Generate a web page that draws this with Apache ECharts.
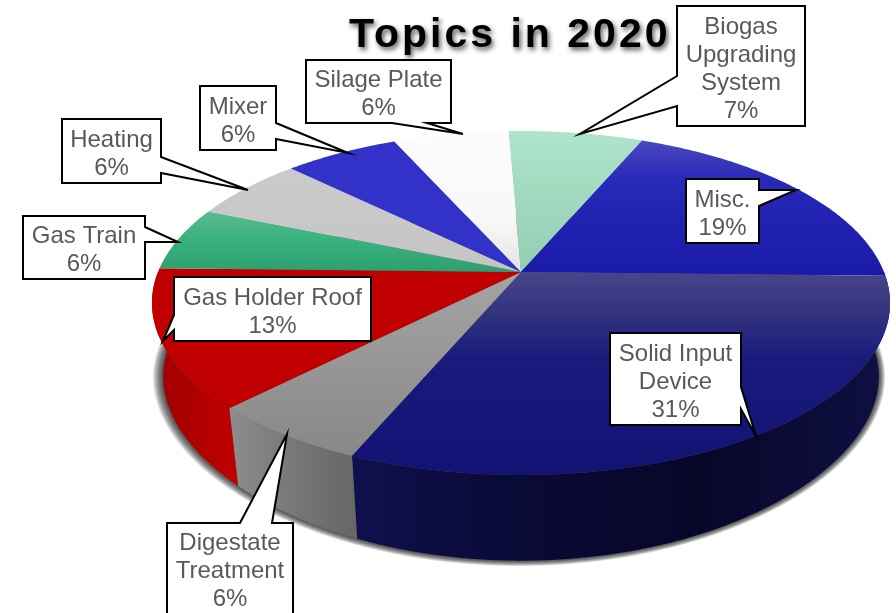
<!DOCTYPE html>
<html>
<head>
<meta charset="utf-8">
<style>html,body{margin:0;padding:0;background:#fff}#chart{width:896px;height:613px}</style>
<script src="https://cdn.jsdelivr.net/npm/echarts@6/dist/echarts.min.js"></script>
</head>
<body>
<div id="chart"></div>
<script>
// Share of topics, clockwise from just before twelve o'clock.
const titleText = 'Topics in 2020';
const sliceNames = [
  ['Biogas', 'Upgrading', 'System'],
  ['Misc.'],
  ['Solid Input', 'Device'],
  ['Digestate', 'Treatment'],
  ['Gas Holder Roof'],
  ['Gas Train'],
  ['Heating'],
  ['Mixer'],
  ['Silage Plate']
];
const sliceShares = [7, 19, 31, 6, 13, 6, 6, 6, 6];

// Perspective views of the disc: its top face and its base.
const topFace = { cx: 521, cy: 272, rx: 363, ry: 166.4, perspX: 0.18, perspY: 0.18 };
const baseFace = { cx: 521, cy: 346, rx: 352, ry: 161, perspX: 0.18, perspY: 0.25 };
// Growth in pixels of the stacked translucent discs that make the soft cast shadow.
const shadowGrowth = [8, 7, 6, 5, 4, 3, 2, 1];
// Rotation of the whole pie, in percent of the circle.
const startShare = -0.65;

// Cumulative start angle (radians, clockwise from the top) of every slice.
const total = sliceShares.reduce((a, b) => a + b, 0);
const toAngle = share => (share + startShare) / total * Math.PI * 2;
const startAngles = [];
sliceShares.reduce((sum, v, i) => { startAngles[i] = toAngle(sum); return sum + v; }, 0);
const endAngle = i => startAngles[i] + sliceShares[i] / total * Math.PI * 2;

function project(theta, face) {
  const u = Math.sin(theta), v = -Math.cos(theta);
  return [face.cx + face.rx * u / (1 - face.perspX * v), face.cy + face.ry * v / (1 - face.perspY * v)];
}
function arc(a0, a1, face) {
  const n = Math.max(2, Math.ceil(Math.abs(a1 - a0) / 0.01));
  const pts = [];
  for (let k = 0; k <= n; k++) pts.push(project(a0 + (a1 - a0) * k / n, face));
  return pts;
}
const vGrad = (y0, y1, stops) => ({ type: 'linear', x: 0, y: y0, x2: 0, y2: y1, global: true,
  colorStops: stops.map(s => ({ offset: (s[0] - y0) / (y1 - y0), color: s[1] })) });
const hGrad = (x0, x1, stops) => ({ type: 'linear', x: x0, y: 0, x2: x1, y2: 0, global: true,
  colorStops: stops.map(s => ({ offset: (s[0] - x0) / (x1 - x0), color: s[1] })) });

// Top face colours, one per slice.
const topFills = [
  vGrad(131, 272, [[131, '#aee4cb'], [272, '#93ceb3']]),
  vGrad(131, 272, [[131, '#5250bf'], [180, '#2828b9'], [272, '#1b1ba9']]),
  vGrad(272, 475, [[272, '#48468a'], [310, '#34347f'], [360, '#191a7c'], [475, '#121274']]),
  vGrad(272, 475, [[272, '#a3a3a3'], [340, '#9a9a9a'], [475, '#858585']]),
  '#c00000',
  vGrad(213, 272, [[213, '#58ba90'], [240, '#38b27e'], [272, '#2d9f6f']]),
  vGrad(165, 272, [[165, '#cbcbcb'], [272, '#c4c4c4']]),
  '#3232c8',
  vGrad(131, 272, [[131, '#fcfcfc'], [220, '#f8f8f8'], [272, '#e4e4e4']])
];
// Rim colours for the slices that face the viewer.
const solidWall = hGrad(355, 889, [[355, '#10104e'], [500, '#0a0a38'], [700, '#070729'], [889, '#0f0f42']]);
const wallFills = {
  1: solidWall,
  2: solidWall,
  3: hGrad(228, 358, [[228, '#8e8e8e'], [290, '#787878'], [358, '#666666']]),
  4: hGrad(155, 236, [[155, '#9f0000'], [236, '#c00000']])
};

// Callout placement: box [x, y, w, h], tail [root, tip, root], text shift.
const callouts = [
  { box: [677, 6, 128, 120], tail: [[677, 76], [580, 134], [677, 106]], dy: 3 },
  { box: [686, 179, 73, 64], tail: [[759, 190], [796, 190], [759, 206]], dy: 3 },
  { box: [610, 333, 131, 92], tail: [[741, 387], [756, 436], [741, 409]], dy: 3 },
  { box: [167, 523, 126, 110], tail: [[240, 523], [287, 434], [272, 523]], dy: -7 },
  { box: [174, 277, 197, 64], tail: [[174, 315], [163, 341], [174, 330]], dy: 3 },
  { box: [23, 216, 122, 63], tail: [[145, 227], [178, 242], [145, 242]], dy: 3 },
  { box: [62, 119, 99, 64], tail: [[161, 157], [248, 190], [161, 173]], dy: 3 },
  { box: [200, 86, 76, 64], tail: [[276, 123], [348, 153], [276, 139]], dy: 3 },
  { box: [306, 60, 145, 63], tail: [[392, 123], [463, 134], [427, 123]], dy: 3 }
];

function calloutOutline(c) {
  const [x, y, w, h] = c.box;
  const corners = [[x, y], [x + w, y], [x + w, y + h], [x, y + h]];
  const [a, tip, b] = c.tail;
  // Find which edge carries the tail, then splice it into the outline.
  const edgeOf = p => p[1] === y ? 0 : p[0] === x + w ? 1 : p[1] === y + h ? 2 : 3;
  const edge = edgeOf(a);
  const along = p => (edge === 0 ? p[0] - x : edge === 1 ? p[1] - y : edge === 2 ? x + w - p[0] : y + h - p[1]);
  const [first, second] = along(a) < along(b) ? [a, b] : [b, a];
  const pts = [];
  for (let i = 0; i < 4; i++) {
    pts.push(corners[i]);
    if (i === edge) pts.push(first, tip, second);
  }
  return pts;
}

// Letter spacing for the heading only; the rest of the text is set normally.
const nativeFillText = CanvasRenderingContext2D.prototype.fillText;
CanvasRenderingContext2D.prototype.fillText = function (t, x, y) {
  if (t === titleText) {
    this.letterSpacing = '3px';
    nativeFillText.call(this, t, x, y);
    this.letterSpacing = '0px';
  } else {
    nativeFillText.call(this, t, x, y);
  }
};

const chart = echarts.init(document.getElementById('chart'), null, { renderer: 'canvas' });
chart.setOption({
  backgroundColor: '#ffffff',
  animation: false,
  title: {
    text: titleText, left: 349, top: 13, padding: 0,
    textStyle: {
      fontFamily: 'Liberation Sans', fontWeight: 'bold', fontSize: 41, color: '#000000', lineHeight: 46,
      textShadowColor: 'rgba(0,0,0,0.65)', textShadowBlur: 5, textShadowOffsetX: 2, textShadowOffsetY: 3
    }
  },
  series: [
    { // soft shadow under the disc
      type: 'custom', coordinateSystem: 'none', silent: true, clip: false, z: 1, data: shadowGrowth,
      renderItem: (params, api) => {
        const g = api.value(0);
        const face = Object.assign({}, baseFace, { cx: baseFace.cx - g * 0.25, rx: baseFace.rx + g, ry: baseFace.ry + g * 0.5 });
        return { type: 'polygon', shape: { points: arc(0, Math.PI * 2, face) }, style: { fill: 'rgba(0,0,0,0.12)' } };
      }
    },
    { // rim of the slices facing the viewer
      type: 'custom', coordinateSystem: 'none', silent: true, clip: false, z: 2, data: sliceShares,
      renderItem: (params) => {
        const i = params.dataIndex;
        const a0 = Math.max(startAngles[i], Math.PI / 2);
        const a1 = Math.min(endAngle(i), Math.PI * 1.5);
        if (a1 <= a0) return null;
        const pts = arc(a0, a1, topFace).concat(arc(a1, a0, baseFace));
        return { type: 'polygon', shape: { points: pts }, style: { fill: wallFills[i] || '#000000' } };
      }
    },
    { // top face
      type: 'custom', coordinateSystem: 'none', silent: true, clip: false, z: 3, data: sliceShares,
      renderItem: (params) => {
        const i = params.dataIndex;
        const pts = [[topFace.cx, topFace.cy]].concat(arc(startAngles[i], endAngle(i), topFace));
        return { type: 'polygon', shape: { points: pts }, style: { fill: topFills[i] } };
      }
    },
    { // value callouts
      type: 'custom', coordinateSystem: 'none', silent: true, clip: false, z: 4, data: sliceShares,
      renderItem: (params, api) => {
        const i = params.dataIndex;
        const c = callouts[i];
        const label = sliceNames[i].concat(api.value(0) + '%').join('\n');
        return {
          type: 'group',
          children: [
            { type: 'polygon', shape: { points: calloutOutline(c) },
              style: { fill: '#ffffff', stroke: '#000000', lineWidth: 2, lineJoin: 'miter' } },
            { type: 'text', x: c.box[0] + c.box[2] / 2, y: c.box[1] + c.box[3] / 2 + c.dy,
              style: { text: label, align: 'center', verticalAlign: 'middle', fill: '#595959',
                font: '24px "Liberation Sans"', lineHeight: 28 } }
          ]
        };
      }
    }
  ]
});
</script>
</body>
</html>
